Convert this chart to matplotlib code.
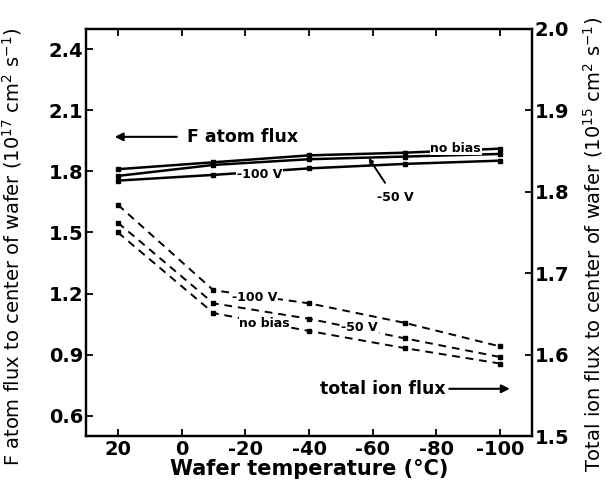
import matplotlib
matplotlib.use('Agg')
import matplotlib.pyplot as plt

plt.rcParams['font.family'] = ['DejaVu Sans']

# wafer temperature (C)
temps = [20, -10, -40, -70, -100]

# F atom flux, 1e17 cm^-2 s^-1 (left axis)
f_nobias = [1.811, 1.845, 1.879, 1.892, 1.912]
f_50v = [1.778, 1.832, 1.860, 1.873, 1.886]
f_100v = [1.755, 1.783, 1.815, 1.837, 1.853]

# total ion flux, 1e15 cm^-2 s^-1 (right axis)
ion_100v = [1.784, 1.679, 1.663, 1.639, 1.610]
ion_50v = [1.762, 1.663, 1.644, 1.620, 1.597]
ion_nobias = [1.750, 1.651, 1.629, 1.608, 1.589]

xticks = [20, 0, -20, -40, -60, -80, -100]
left_ticks = [0.6, 0.9, 1.2, 1.5, 1.8, 2.1, 2.4]
right_ticks = [1.5, 1.6, 1.7, 1.8, 1.9, 2.0]

fig = plt.figure(figsize=(6.06, 4.91), dpi=100)
ax = fig.add_axes([0.142, 0.112, 0.736, 0.829])
ax2 = ax.twinx()

for ys in (f_nobias, f_50v, f_100v):
    ax.plot(temps, ys, '-', color='black', lw=1.8, marker='s', ms=3.5, zorder=2)
for ys in (ion_100v, ion_50v, ion_nobias):
    ax2.plot(temps, ys, color='black', lw=1.4, ls=(0, (4, 3)), marker='s', ms=3.5, zorder=2)

ax.set_xlim(30, -110)
ax.set_ylim(0.5, 2.5)
ax2.set_ylim(1.5, 2.0)

ax.set_xticks(xticks)
ax.set_xticklabels([str(t) for t in xticks], fontsize=14, fontweight='bold')
ax.set_yticks(left_ticks)
ax.set_yticklabels(['%.1f' % v for v in left_ticks], fontsize=14, fontweight='bold')
ax2.set_yticks(right_ticks)
ax2.set_yticklabels(['%.1f' % v for v in right_ticks], fontsize=14, fontweight='bold')

ax.tick_params(axis='x', direction='in', top=True, length=5, width=1.3, pad=3)
ax.tick_params(axis='y', direction='in', left=True, right=False, length=5, width=1.3, pad=2)
ax2.tick_params(axis='y', direction='in', left=False, right=True, length=5, width=1.3, pad=2)
for a in (ax, ax2):
    for s in a.spines.values():
        s.set_linewidth(1.6)

ax.set_xlabel('Wafer temperature (\u00b0C)', fontsize=15, fontweight='bold', labelpad=0)
ax.set_ylabel('F atom flux to center of wafer (10$^{17}$ cm$^{2}$ s$^{-1}$)', fontsize=14)
ax2.set_ylabel('Total ion flux to center of wafer (10$^{15}$ cm$^{2}$ s$^{-1}$)', fontsize=14)
ax.yaxis.set_label_coords(-0.14, 0.465)
ax2.yaxis.set_label_coords(1.11, 0.47)

box = dict(facecolor='white', edgecolor='none', pad=0.5)
small = dict(fontsize=9, fontweight='bold', ha='center', va='center', zorder=5)
big_arrow = dict(arrowstyle='-|>', color='black', lw=1.5, mutation_scale=12, shrinkA=0, shrinkB=0)

# F atom flux labels
ax.annotate('', xy=(21, 1.97), xytext=(1.5, 1.97), arrowprops=big_arrow)
ax.text(-1.6, 1.97, 'F atom flux', fontsize=12.5, fontweight='bold', ha='left', va='center')
ax.text(-86, 1.915, 'no bias', bbox=box, **small)
ax.text(-24.5, 1.785, '-100 V', bbox=box, **small)
ax.annotate('-50 V', xy=(-58.7, 1.866), xytext=(-67, 1.67),
            fontsize=9, fontweight='bold', ha='center', va='center',
            arrowprops=dict(arrowstyle='-|>', color='black', lw=1.4, mutation_scale=6,
                            shrinkA=5, shrinkB=0))

# ion flux labels
ax2.text(-43.3, 1.558, 'total ion flux', fontsize=12.5, fontweight='bold', ha='left', va='center')
ax2.annotate('', xy=(-103, 1.558), xytext=(-84, 1.558), arrowprops=big_arrow)
ax2.text(-22.9, 1.670, '-100 V', bbox=box, **small)
ax2.text(-55.9, 1.633, '-50 V', bbox=box, **small)
ax2.text(-26.1, 1.638, 'no bias', bbox=box, **small)

fig.savefig('out.png', dpi=100)
